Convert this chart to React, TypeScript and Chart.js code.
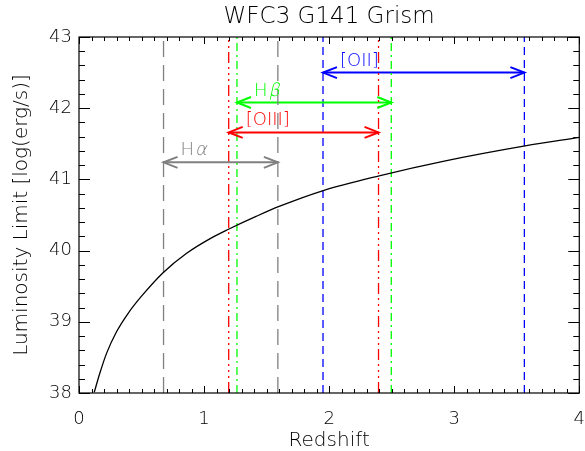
import { useEffect, useRef } from 'react';
import { Chart, registerables } from 'chart.js';

Chart.register(...registerables);

// ---- data ----
const redshift = [0.122, 0.167, 0.221, 0.30, 0.393, 0.50, 0.672, 0.858, 1.07, 1.195, 1.416, 1.60, 1.947, 2.40, 2.93, 3.567, 4.0];
const lumLimit = [38.01, 38.28, 38.56, 38.86, 39.12, 39.36, 39.69, 39.96, 40.19, 40.30, 40.48, 40.62, 40.84, 41.05, 41.26, 41.47, 41.59];

const xTickValues = [0, 1, 2, 3, 4];
const yTickValues = [38, 39, 40, 41, 42, 43];

const lineNames = ['Hα', '[OIII]', 'Hβ', '[OII]'];
const zStart = [0.676, 1.197, 1.263, 1.951];
const zEnd = [1.590, 2.395, 2.497, 3.561];
const arrowLevel = [41.24, 41.66, 42.08, 42.5];

// ---- styles ----
const lineColors = ['#808080', '#ff0000', '#00ff00', '#0000ff'];
const lineDashes = [[16, 8], [11, 4, 2, 4, 2, 4, 2, 4], [8, 4, 2, 4], [8, 5]];
const FONT = '"DejaVu Sans", "Liberation Sans", sans-serif';
const WEIGHT = 200;
const TEXT = '#000';

const overlay = {
  id: 'overlay',
  afterDatasetsDraw(chart: any) {
    const { ctx, chartArea: a, scales } = chart;
    const x = scales.x;
    const y = scales.y;
    ctx.save();
    ctx.setLineDash([]);
    // arrow heads and labels
    lineNames.forEach((name, i) => {
      const yy = y.getPixelForValue(arrowLevel[i]);
      const x1 = x.getPixelForValue(zStart[i]);
      const x2 = x.getPixelForValue(zEnd[i]);
      ctx.strokeStyle = lineColors[i];
      ctx.lineWidth = 2;
      ctx.beginPath();
      ctx.moveTo(x1 + 14, yy - 5.5);
      ctx.lineTo(x1, yy);
      ctx.lineTo(x1 + 14, yy + 5.5);
      ctx.moveTo(x2 - 14, yy - 5.5);
      ctx.lineTo(x2, yy);
      ctx.lineTo(x2 - 14, yy + 5.5);
      ctx.stroke();

      ctx.fillStyle = lineColors[i];
      ctx.textAlign = 'left';
      ctx.textBaseline = 'alphabetic';
      ctx.font = `${WEIGHT} 18px ${FONT}`;
      let tx = x1 + 17;
      const ty = yy - 7;
      for (const ch of Array.from(name)) {
        const greek = /[\u03b1-\u03c9]/.test(ch);
        if (greek) {
          ctx.save();
          ctx.translate(tx + 1, ty);
          ctx.transform(1, 0, -0.22, 1, 0, 0);
          ctx.fillText(ch, 0, 0);
          ctx.restore();
        } else {
          ctx.fillText(ch, tx, ty);
        }
        tx += ctx.measureText(ch).width;
      }
    });

    // inward ticks on all four sides
    ctx.strokeStyle = '#000';
    ctx.lineWidth = 1;
    ctx.beginPath();
    const xMin = xTickValues[0];
    const xMax = xTickValues[xTickValues.length - 1];
    for (let k = 0; k <= (xMax - xMin) * 10; k++) {
      const v = xMin + k / 10;
      const px = Math.round(x.getPixelForValue(v)) + 0.5;
      const len = k % 10 === 0 ? 7 : 4;
      ctx.moveTo(px, a.bottom);
      ctx.lineTo(px, a.bottom - len);
      ctx.moveTo(px, a.top);
      ctx.lineTo(px, a.top + len);
    }
    const yMin = yTickValues[0];
    const yMax = yTickValues[yTickValues.length - 1];
    for (let k = 0; k <= (yMax - yMin) * 5; k++) {
      const v = yMin + k / 5;
      const py = Math.round(y.getPixelForValue(v)) + 0.5;
      const len = k % 5 === 0 ? 11 : 6;
      ctx.moveTo(a.left, py);
      ctx.lineTo(a.left + len, py);
      ctx.moveTo(a.right, py);
      ctx.lineTo(a.right - len, py);
    }
    ctx.stroke();

    ctx.lineWidth = 1.2;
    ctx.strokeRect(a.left, a.top, a.right - a.left, a.bottom - a.top);
    ctx.restore();
  },
};

export default function App() {
  const ref = useRef<HTMLCanvasElement>(null);

  useEffect(() => {
    document.body.style.margin = '0';
    const yLo = yTickValues[0];
    const yHi = yTickValues[yTickValues.length - 1];

    const datasets: any[] = [
      {
        data: redshift.map((z, i) => ({ x: z, y: lumLimit[i] })),
        borderColor: '#000',
        borderWidth: 1.3,
        pointRadius: 0,
        cubicInterpolationMode: 'monotone',
      },
    ];
    lineNames.forEach((_, i) => {
      [zStart[i], zEnd[i]].forEach((z) => {
        datasets.push({
          data: [{ x: z, y: yLo }, { x: z, y: yHi }],
          borderColor: lineColors[i],
          borderWidth: 1.3,
          borderDash: lineDashes[i],
          pointRadius: 0,
        });
      });
      datasets.push({
        data: [{ x: zStart[i], y: arrowLevel[i] }, { x: zEnd[i], y: arrowLevel[i] }],
        borderColor: lineColors[i],
        borderWidth: 2,
        pointRadius: 0,
      });
    });

    const chart = new Chart(ref.current!, {
      type: 'line',
      data: { datasets },
      plugins: [overlay],
      options: {
        animation: false,
        responsive: false,
        events: [],
        layout: { padding: 0 },
        plugins: {
          legend: { display: false },
          tooltip: { enabled: false },
          title: {
            display: true,
            text: 'WFC3 G141 Grism',
            fullSize: false,
            color: TEXT,
            font: { family: FONT, size: 23, weight: WEIGHT, lineHeight: 1 },
            padding: { top: 6, bottom: 8 },
          },
        },
        scales: {
          x: {
            type: 'linear',
            min: xTickValues[0],
            max: xTickValues[xTickValues.length - 1],
            grid: { display: false, drawTicks: false },
            border: { display: false },
            ticks: {
              stepSize: 1,
              color: TEXT,
              font: { family: FONT, size: 18, weight: WEIGHT, lineHeight: 2.9 },
              padding: 0,
              callback: (v: any) => String(v),
            },
            title: {
              display: true,
              text: 'Redshift',
              color: TEXT,
              font: { family: FONT, size: 20, weight: WEIGHT, lineHeight: 1 },
              padding: 0,
            },
            afterFit: (s: any) => {
              s.height = 58;
            },
          },
          y: {
            type: 'linear',
            min: yLo,
            max: yHi,
            grid: { display: false, drawTicks: false },
            border: { display: false },
            ticks: {
              stepSize: 1,
              color: TEXT,
              font: { family: FONT, size: 18, weight: WEIGHT },
              padding: 7,
              callback: (v: any) => String(v),
            },
            title: {
              display: true,
              text: 'Luminosity Limit [log(erg/s)]',
              color: TEXT,
              font: { family: FONT, size: 20, weight: WEIGHT, lineHeight: 1 },
              padding: { top: 12, bottom: 0 },
            },
            afterFit: (s: any) => {
              s.width = 79;
            },
          },
        },
      } as any,
    });
    return () => chart.destroy();
  }, []);

  return (
    <div style={{ position: 'absolute', left: 0, top: 0, width: 585, height: 451 }}>
      <canvas ref={ref} width={585} height={451} style={{ display: 'block', width: 585, height: 451 }} />
    </div>
  );
}
